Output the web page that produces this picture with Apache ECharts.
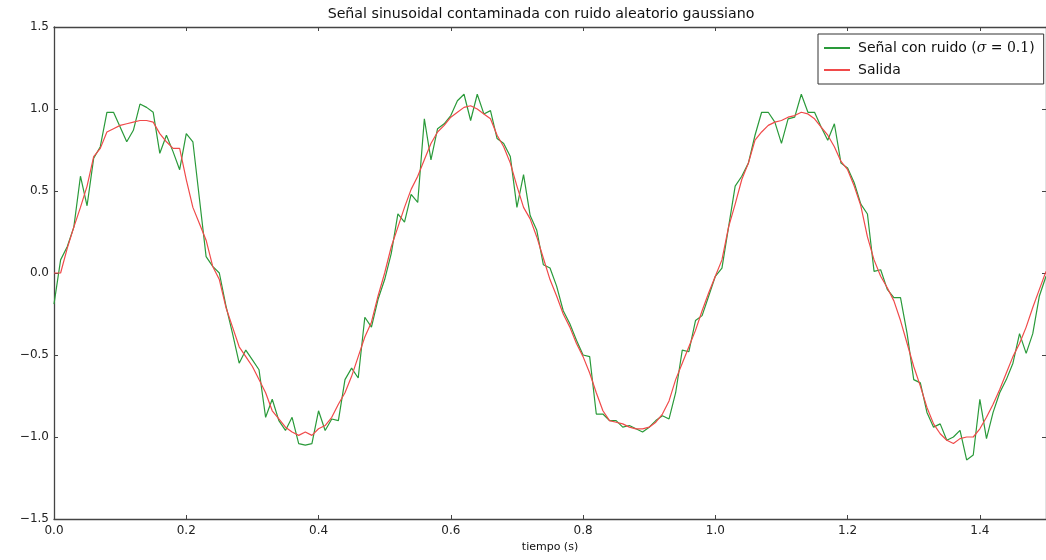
<!DOCTYPE html>
<html>
<head>
<meta charset="utf-8">
<script src="https://cdn.jsdelivr.net/npm/echarts@6/dist/echarts.min.js"></script>
<style>
  html, body { margin: 0; padding: 0; background: #fff; }
  #chart { width: 1046px; height: 560px; }
</style>
</head>
<body>
<div id="chart"></div>
<script>
// Sampling step of the signal (s)
const DT = 0.01;

// Noisy sinusoid, one value per sample (0.00 s ... 1.50 s)
const noisy = [
  -0.19, 0.08, 0.16, 0.28, 0.59, 0.41, 0.70, 0.77, 0.98, 0.98,
   0.89, 0.80, 0.87, 1.03, 1.01, 0.98, 0.73, 0.84, 0.74, 0.63,
   0.85, 0.80, 0.45, 0.10, 0.04, 0.00, -0.20, -0.37, -0.55, -0.47,
  -0.53, -0.59, -0.88, -0.77, -0.90, -0.96, -0.88, -1.04, -1.05, -1.04,
  -0.84, -0.96, -0.89, -0.90, -0.65, -0.58, -0.64, -0.27, -0.33, -0.16,
  -0.04, 0.12, 0.36, 0.31, 0.48, 0.43, 0.94, 0.69, 0.88, 0.91,
   0.96, 1.05, 1.09, 0.93, 1.09, 0.97, 0.99, 0.82, 0.79, 0.71,
   0.40, 0.60, 0.35, 0.26, 0.05, 0.03, -0.08, -0.23, -0.31, -0.41,
  -0.50, -0.51, -0.86, -0.86, -0.90, -0.90, -0.94, -0.93, -0.95, -0.97,
  -0.94, -0.90, -0.87, -0.89, -0.73, -0.47, -0.48, -0.29, -0.26, -0.14,
  -0.02, 0.03, 0.28, 0.53, 0.59, 0.67, 0.84, 0.98, 0.98, 0.92,
   0.79, 0.94, 0.95, 1.09, 0.98, 0.98, 0.89, 0.81, 0.91, 0.67,
   0.64, 0.55, 0.42, 0.36, 0.01, 0.02, -0.10, -0.15, -0.15, -0.37,
  -0.65, -0.67, -0.85, -0.94, -0.92, -1.02, -1.00, -0.96, -1.14, -1.11,
  -0.77, -1.01, -0.85, -0.73, -0.65, -0.55, -0.37, -0.49, -0.37, -0.14,
  -0.02
];

// Filtered output, same sample instants
const salida = [
   0.00, 0.00, 0.15, 0.28, 0.40, 0.53, 0.71, 0.76, 0.86, 0.88,
   0.90, 0.91, 0.92, 0.93, 0.93, 0.92, 0.85, 0.80, 0.76, 0.76,
   0.57, 0.40, 0.30, 0.20, 0.04, -0.04, -0.21, -0.33, -0.45, -0.51,
  -0.57, -0.65, -0.73, -0.84, -0.89, -0.94, -0.97, -0.99, -0.97, -0.99,
  -0.95, -0.93, -0.88, -0.80, -0.73, -0.63, -0.51, -0.39, -0.30, -0.14,
   0.00, 0.16, 0.28, 0.40, 0.51, 0.59, 0.69, 0.79, 0.86, 0.90,
   0.95, 0.98, 1.01, 1.02, 1.00, 0.97, 0.94, 0.84, 0.77, 0.67,
   0.53, 0.40, 0.33, 0.22, 0.09, -0.04, -0.14, -0.25, -0.33, -0.43,
  -0.51, -0.61, -0.73, -0.84, -0.90, -0.91, -0.92, -0.94, -0.95, -0.95,
  -0.94, -0.91, -0.86, -0.78, -0.65, -0.55, -0.45, -0.35, -0.23, -0.12,
  -0.02, 0.08, 0.28, 0.42, 0.57, 0.67, 0.81, 0.86, 0.90, 0.92,
   0.93, 0.95, 0.96, 0.98, 0.97, 0.94, 0.89, 0.84, 0.77, 0.68,
   0.63, 0.53, 0.41, 0.22, 0.08, -0.02, -0.09, -0.17, -0.29, -0.43,
  -0.57, -0.69, -0.82, -0.92, -0.98, -1.02, -1.04, -1.01, -1.00, -1.00,
  -0.95, -0.88, -0.80, -0.71, -0.61, -0.51, -0.43, -0.33, -0.21, -0.10,
   0.01
];

const TITLE = 'Señal sinusoidal contaminada con ruido aleatorio gaussiano';
const X_NAME = 'tiempo (s)';
const NAME_NOISY = 'Señal con ruido';
const NAME_OUT = 'Salida';

const time = noisy.map((_, i) => +(i * DT).toFixed(2));
const pairs = (vals) => vals.map((v, i) => [time[i], v]);

const FONT = 'DejaVu Sans';
const AXIS_COLOR = '#444';
const GREEN = '#2a9a3a';
const RED = '#f04a4a';
const fmt = (v) => v.toFixed(1).replace('-', '\u2212');

const chart = echarts.init(document.getElementById('chart'), null, { renderer: 'canvas' });

const frameAxis = {
  axisLine: { show: true, onZero: false, lineStyle: { color: AXIS_COLOR, width: 1.3 } },
  axisTick: { show: true, inside: true, length: 4, lineStyle: { color: AXIS_COLOR, width: 1 } },
  splitLine: { show: false }
};

chart.setOption({
  animation: false,
  backgroundColor: '#fff',
  grid: { left: 54, top: 27, right: -8, bottom: 41, containLabel: false },
  graphic: [{
    type: 'text',
    x: 541, y: 14,
    style: {
      text: TITLE,
      align: 'center', verticalAlign: 'middle',
      font: '14.2px "DejaVu Sans"', fill: '#111'
    }
  }],
  legend: {
    orient: 'vertical',
    left: 818, top: 34,
    padding: [7, 9, 7, 6],
    itemGap: 8,
    itemWidth: 26, itemHeight: 2,
    icon: 'rect',
    backgroundColor: '#fff',
    borderColor: '#333', borderWidth: 1, borderRadius: 0,
    data: [
      { name: NAME_NOISY, itemStyle: { color: GREEN } },
      { name: NAME_OUT, itemStyle: { color: RED } }
    ],
    formatter: (name) => name === NAME_NOISY
      ? '{a|' + NAME_NOISY + ' (}{m|σ}{r| = 0.1}{a|)}'
      : '{a|' + name + '}',
    textStyle: {
      padding: [0, 0, 0, 3],
      rich: {
        a: { fontFamily: FONT, fontSize: 14, color: '#111', lineHeight: 16 },
        m: { fontFamily: 'DejaVu Serif', fontStyle: 'italic', fontSize: 14, color: '#111', lineHeight: 16 },
        r: { fontFamily: 'DejaVu Serif', fontSize: 14, color: '#111', lineHeight: 16 }
      }
    }
  },
  xAxis: [
    Object.assign({}, frameAxis, {
      type: 'value', position: 'bottom',
      min: 0, max: 1.5, interval: 0.2,
      name: X_NAME, nameLocation: 'middle', nameGap: 23,
      nameTextStyle: { fontFamily: FONT, fontSize: 11, color: '#111' },
      axisLabel: {
        show: true, margin: 6, showMaxLabel: false,
        fontFamily: FONT, fontSize: 12, color: '#222',
        formatter: fmt
      }
    }),
    Object.assign({}, frameAxis, {
      type: 'value', position: 'top',
      min: 0, max: 1.5, interval: 0.2,
      axisLabel: { show: false }
    })
  ],
  yAxis: [
    Object.assign({}, frameAxis, {
      type: 'value', position: 'left',
      min: -1.5, max: 1.5, interval: 0.5,
      axisLabel: {
        show: true, margin: 5,
        fontFamily: FONT, fontSize: 12, color: '#222',
        formatter: fmt
      }
    }),
    Object.assign({}, frameAxis, {
      type: 'value', position: 'right',
      min: -1.5, max: 1.5, interval: 0.5,
      axisLabel: { show: false }
    })
  ],
  series: [
    {
      name: NAME_NOISY, type: 'line',
      xAxisIndex: 0, yAxisIndex: 0,
      data: pairs(noisy),
      showSymbol: false, symbol: 'none',
      lineStyle: { color: GREEN, width: 1.2 },
      itemStyle: { color: GREEN },
      z: 2
    },
    {
      name: NAME_OUT, type: 'line',
      xAxisIndex: 0, yAxisIndex: 0,
      data: pairs(salida),
      showSymbol: false, symbol: 'none',
      lineStyle: { color: RED, width: 1.2 },
      itemStyle: { color: RED },
      z: 3
    }
  ]
});
</script>
</body>
</html>
